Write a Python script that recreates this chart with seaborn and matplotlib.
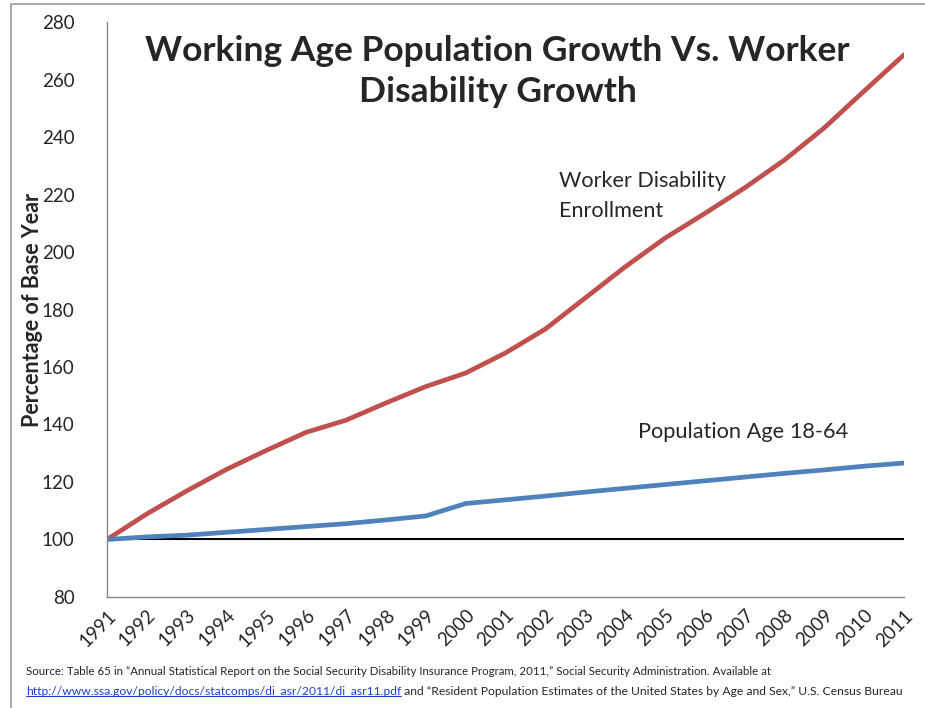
import numpy as np
import pandas as pd
import matplotlib.pyplot as plt
import seaborn as sns
from matplotlib.lines import Line2D

# data (percent of 1991 level)
years = list(range(1991, 2012))
disability = [100, 108.9, 116.9, 124.4, 131.0, 137.3, 141.5, 147.5, 153.2, 157.9,
              164.9, 173.2, 184.0, 194.8, 204.8, 213.4, 222.3, 232.0, 243.2, 256.0, 268.6]
population = [100, 100.9, 101.5, 102.5, 103.5, 104.5, 105.5, 106.8, 108.2, 112.5,
              113.8, 115.1, 116.5, 117.8, 119.1, 120.4, 121.7, 123.0, 124.2, 125.5, 126.6]
series_names = ['Worker Disability Enrollment', 'Population Age 18-64']
yticks = list(range(80, 281, 20))

df = pd.DataFrame({
    'year': years * 2,
    'value': disability + population,
    'series': [series_names[0]] * len(years) + [series_names[1]] * len(years),
})

sns.set_style('white')
plt.rcParams['font.family'] = ['Lato', 'DejaVu Sans']

fig = plt.figure(figsize=(9.25, 7.08), dpi=100)
ax = fig.add_axes([0.1157, 0.1568, 0.8616, 0.8121])

# baseline at 100
ax.plot([years[0], years[-1]], [100, 100], color='black', lw=1.5, zorder=1)

sns.lineplot(data=df, x='year', y='value', hue='series',
             palette={series_names[0]: '#C0504D', series_names[1]: '#4F81BD'},
             lw=3.4, legend=False, ax=ax, zorder=2)

ax.set_xlim(years[0], years[-1])
ax.set_ylim(80, 280)
ax.set_xticks(years)
ax.set_xticklabels([str(y) for y in years], rotation=45, ha='right',
                   rotation_mode='anchor', fontsize=13.5)
ax.set_yticks(yticks)
ax.set_yticklabels([str(v) for v in yticks], fontsize=13.5)
ax.tick_params(axis='both', direction='out', length=5, width=1, color='#868686')
ax.tick_params(axis='y', pad=18.5)
ax.tick_params(axis='x', pad=2)
ax.set_xlabel('')
ax.set_ylabel('Percentage of Base Year', fontsize=15.5, fontweight='bold')
ax.yaxis.set_label_coords(-0.080, 0.5)

for side in ['top', 'right']:
    ax.spines[side].set_visible(False)
for side in ['left', 'bottom']:
    ax.spines[side].set_color('#868686')
    ax.spines[side].set_linewidth(1)

fig.text(0.538, 0.899, 'Working Age Population Growth Vs. Worker\nDisability Growth',
         ha='center', va='center', fontsize=25.5, fontweight='bold', linespacing=1.38)

ax.text(2002.34, 219.5, 'Worker Disability\nEnrollment', fontsize=15.6,
        ha='left', va='center', linespacing=1.58)
ax.text(2004.33, 137.4, 'Population Age 18-64', fontsize=15.7, ha='left', va='center')

# source note
src_font = ['Lato', 'DejaVu Sans']
src_size = 8.3
fig.text(0.028, 0.047,
         'Source: Table 65 in \u201cAnnual Statistical Report on the Social Security Disability '
         'Insurance Program, 2011,\u201d Social Security Administration. Available at',
         fontsize=src_size, family=src_font, va='baseline')
link = fig.text(0.028, 0.019,
                'http://www.ssa.gov/policy/docs/statcomps/di_asr/2011/di_asr11.pdf',
                fontsize=src_size + 0.4, family=src_font, color='#1F3FCF', va='baseline')
ax.annotate(' and \u201cResident Population Estimates of the United States by Age and Sex,\u201d '
            'U.S. Census Bureau', xy=(1, 0), xycoords=link, va='bottom', ha='left',
            fontsize=src_size + 0.4, family=src_font, annotation_clip=False)

fig.canvas.draw()
bb = link.get_window_extent()
W, H = fig.bbox.width, fig.bbox.height
fig.add_artist(Line2D([bb.x0 / W, bb.x1 / W], [(bb.y0 + 1) / H] * 2,
                      color='#1F3FCF', lw=0.8))

# outer frame (top and left edge)
fig.add_artist(Line2D([0.012, 0.012, 1.0], [0.0, 0.994, 0.994], color='#9a9a9a', lw=1.2))

fig.savefig('out.png', dpi=100)
